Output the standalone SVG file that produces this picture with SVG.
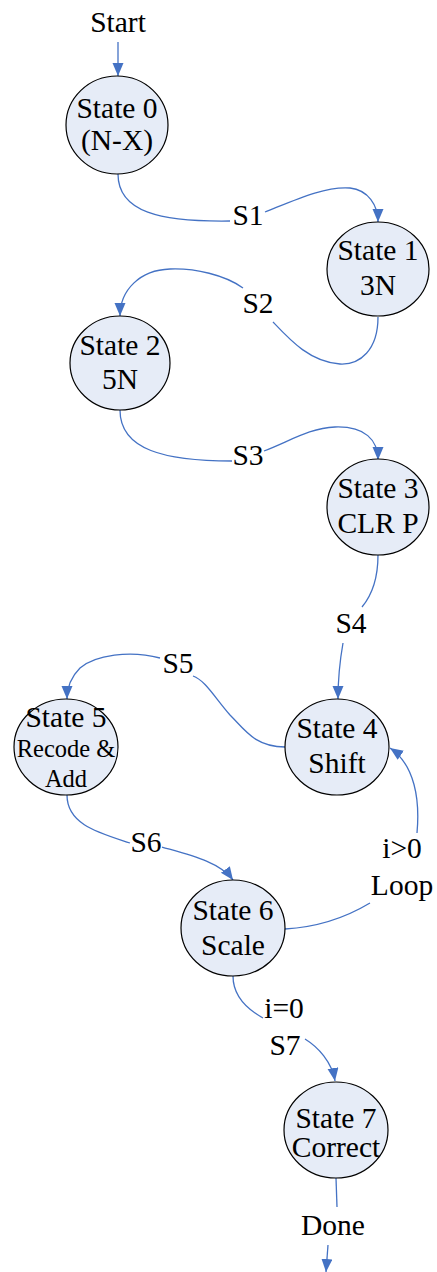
<svg xmlns="http://www.w3.org/2000/svg" width="437" height="1272" viewBox="0 0 437 1272">
<style>
.n{fill:#E6ECF7;stroke:#000;stroke-width:1.2}
text{font-family:'Liberation Serif','DejaVu Serif',serif;font-size:29.5px;fill:#000;text-anchor:middle}
.s{font-size:24.5px}
.c{fill:none;stroke:#4472C4;stroke-width:1.3}
</style>
<defs>
<marker id="ah" markerUnits="userSpaceOnUse" markerWidth="14" markerHeight="12" refX="13" refY="5.5" orient="auto" viewBox="0 0 14 12">
<path d="M0,0 L13,5.5 L0,11 z" fill="#4472C4"/>
</marker>
</defs>
<rect width="437" height="1272" fill="#fff"/>
<g id="connectors">
<path class="c" d="M118,42 L118,76" marker-end="url(#ah)"/>
<path class="c" d="M118,174 C118,212 160,222 230,221 M265,212 C295,200 325,186 350,188 C368,190 378,205 378,222" marker-end="url(#ah)"/>
<path class="c" d="M378,317 C378,350 360,365 340,364 C310,362 290,340 273,322 M243,288 C225,275 195,268 170,269 C140,270 120,290 120,316" marker-end="url(#ah)"/>
<path class="c" d="M120,410 C120,450 165,461 232,461 M264,451 C290,441 310,428 335,427 C365,426 378,440 378,460" marker-end="url(#ah)"/>
<path class="c" d="M378,555 C378,580 372,595 362,607 M343,643 C340,660 338,680 338,699" marker-end="url(#ah)"/>
<path class="c" d="M285,747 C255,747 245,730 230,715 C215,698 205,680 193,676 M160,658 C130,650 95,655 80,668 C70,678 67,688 67,699" marker-end="url(#ah)"/>
<path class="c" d="M67,795 C67,825 100,833 130,843 M162,847 C190,855 220,862 233,880" marker-end="url(#ah)"/>
<path class="c" d="M285,929 C320,927 350,915 370,903 M417,833 C420,800 415,765 390,748" marker-end="url(#ah)"/>
<path class="c" d="M233,976 C233,995 245,1008 263,1018 M305,1039 C318,1047 332,1062 335,1081" marker-end="url(#ah)"/>
<path class="c" d="M336,1178 L337,1207"/>
<path class="c" d="M328,1245 L326,1272" marker-end="url(#ah)"/>
</g>
<g id="labels">
<text x="118" y="32">Start</text>
<text x="248" y="225">S1</text>
<text x="258" y="313">S2</text>
<text x="248" y="465">S3</text>
<text x="351" y="633">S4</text>
<text x="178" y="673">S5</text>
<text x="146" y="852">S6</text>
<text x="402" y="858">i&gt;0</text>
<text x="402" y="895">Loop</text>
<text x="284" y="1018">i=0</text>
<text x="285" y="1055">S7</text>
<text x="333" y="1235">Done</text>
</g>
<g id="state0"><ellipse class="n" cx="117" cy="125" rx="51" ry="49"/><text x="117" y="118">State 0</text><text x="117" y="150">(N-X)</text></g>
<g id="state1"><ellipse class="n" cx="378" cy="269" rx="51" ry="47"/><text x="378" y="260">State 1</text><text x="378" y="295">3N</text></g>
<g id="state2"><ellipse class="n" cx="120" cy="363" rx="50" ry="47"/><text x="120" y="355">State 2</text><text x="120" y="389">5N</text></g>
<g id="state3"><ellipse class="n" cx="378" cy="507" rx="51" ry="48"/><text x="378" y="498">State 3</text><text x="378" y="533">CLR P</text></g>
<g id="state4"><ellipse class="n" cx="337" cy="747" rx="52" ry="48"/><text x="337" y="738">State 4</text><text x="337" y="773">Shift</text></g>
<g id="state5"><ellipse class="n" cx="66" cy="747" rx="52" ry="48"/><text x="66" y="727">State 5</text><text class="s" x="66" y="757">Recode &amp;</text><text class="s" x="66" y="787">Add</text></g>
<g id="state6"><ellipse class="n" cx="233" cy="928" rx="52" ry="48"/><text x="233" y="920">State 6</text><text x="233" y="955">Scale</text></g>
<g id="state7"><ellipse class="n" cx="336" cy="1130" rx="52" ry="48"/><text x="336" y="1128">State 7</text><text x="336" y="1157">Correct</text></g>
</svg>
